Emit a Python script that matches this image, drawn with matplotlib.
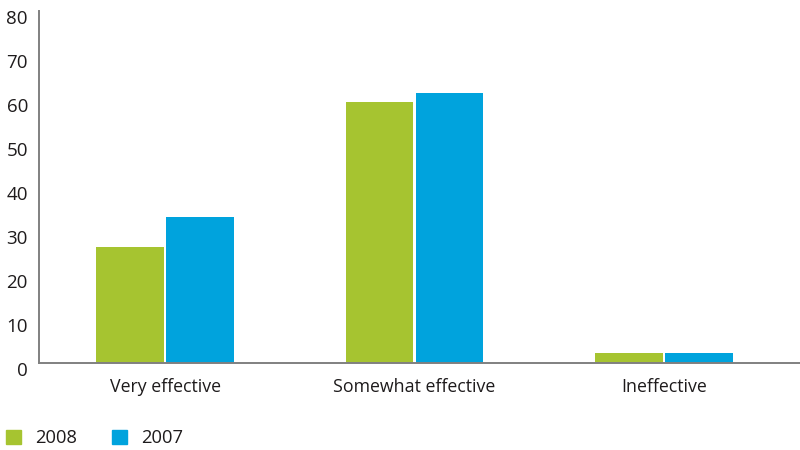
import numpy as np
import matplotlib.pyplot as plt
import matplotlib.patches as mpatches
import matplotlib.transforms as mtransforms

plt.rcParams['font.family'] = ['Open Sans', 'DejaVu Sans']

categories = ['Very effective', 'Somewhat effective', 'Ineffective']
years = ['2008', '2007']
values_2008 = [26.3, 59.3, 2.4]
values_2007 = [33.3, 61.3, 2.4]

green = '#A6C430'
blue = '#00A3DD'
text_color = '#1E1B1C'

fig = plt.figure(figsize=(8, 4.5), dpi=100)
ax = fig.add_axes([0.04875, 0.193, 0.95125, 0.7825])

x = np.arange(len(categories))
w = 0.27
ax.bar(x - 0.14, values_2008, width=w, color=green, edgecolor='none')
ax.bar(x + 0.14, values_2007, width=w, color=blue, edgecolor='none')

ax.set_xlim(-0.505, 2.545)
ax.set_ylim(0, 80)
ax.set_yticks(range(0, 81, 10))
ax.set_xticks(x)
ax.set_xticklabels(categories)

for s in ['top', 'right']:
    ax.spines[s].set_visible(False)
for s in ['left', 'bottom']:
    ax.spines[s].set_color('#808080')
    ax.spines[s].set_linewidth(1.4)

ax.tick_params(axis='both', length=0, labelcolor=text_color)
ax.tick_params(axis='y', labelsize=13.5, pad=8)
ax.tick_params(axis='x', labelsize=12.8, pad=11)

# y labels sit a little below their gridline in the original
offset = mtransforms.ScaledTranslation(0, -0.06, fig.dpi_scale_trans)
for lab in ax.get_yticklabels():
    lab.set_transform(lab.get_transform() + offset)

handles = [mpatches.Patch(color=green, label=years[0]),
           mpatches.Patch(color=blue, label=years[1])]
fig.legend(handles=handles, loc='lower left', bbox_to_anchor=(-0.013, -0.03),
           ncol=2, frameon=False, fontsize=13.2, handlelength=0.82,
           handleheight=0.82, handletextpad=0.78, columnspacing=1.9,
           labelcolor=text_color)

fig.savefig('out.png', dpi=100)
